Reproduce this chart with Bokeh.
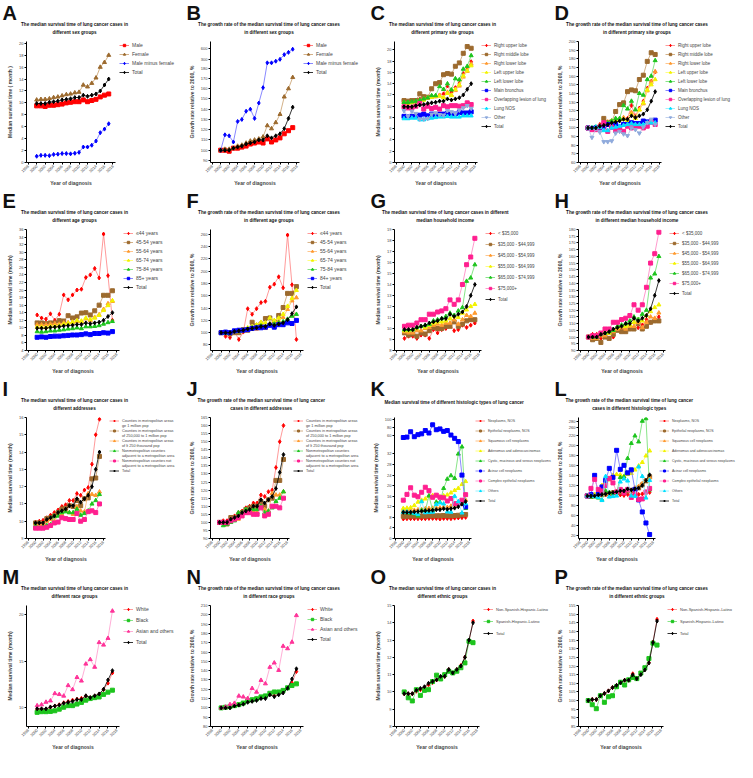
import math
from bokeh.plotting import figure
from bokeh.models import Legend, LegendItem, FixedTicker, Label
from bokeh.layouts import column, row
from bokeh.embed import file_html
from bokeh.resources import INLINE

FONT = "Liberation Sans"
years = list(range(2000, 2018))
x_ticks = list(range(1998, 2019, 2))

total_time = [9.9, 9.9, 9.9, 10.1, 10.2, 10.3, 10.5, 10.6, 10.7, 10.9, 10.9, 11.3, 11.1, 11.3, 11.5, 12.0, 13.0, 14.0]
total_growth = [100, 100, 100, 102, 103, 104, 106, 107, 108, 110, 110, 114, 112, 114, 116, 121, 131, 142]

# A
male_a = [9.5, 9.5, 9.4, 9.6, 9.6, 9.7, 9.8, 10.0, 10.1, 10.2, 10.2, 10.5, 10.2, 10.4, 10.6, 11.0, 11.3, 11.5]
female_a = [10.5, 10.6, 10.6, 10.7, 10.9, 11.0, 11.2, 11.4, 11.5, 11.7, 11.8, 13.0, 12.7, 13.3, 14.2, 16.0, 16.8, 18.0]
diff_a = [1.05, 1.2, 1.2, 1.15, 1.35, 1.4, 1.5, 1.5, 1.45, 1.55, 1.7, 2.6, 2.6, 2.9, 3.6, 5.0, 5.6, 6.5]
# B
male_b = [100, 100, 99, 102, 102, 103, 104, 106, 107, 108, 107, 111, 108, 110, 112, 116, 119, 122]
female_b = [100, 101, 101, 102, 104, 105, 107, 109, 110, 111, 113, 124, 121, 127, 135, 152, 160, 171]
diff_b = [100, 115, 114, 108, 128, 130, 138, 140, 131, 146, 161, 211, 211, 257, 309, 440, 503, 591]
# C
rul_c = [10.8, 10.8, 10.9, 11.0, 11.3, 11.2, 11.6, 11.7, 11.8, 12.0, 12.2, 13.6, 12.5, 13.3, 14.1, 15.8, 16.6, 17.9]
rml_c = [11.0, 10.9, 11.0, 11.0, 12.2, 11.7, 11.6, 13.1, 14.0, 14.2, 15.6, 15.8, 15.7, 17.1, 17.7, 19.4, 20.6, 20.3]
rll_c = [10.6, 10.5, 10.6, 10.8, 11.1, 11.3, 11.5, 11.6, 11.7, 11.9, 11.6, 12.5, 12.0, 12.8, 13.6, 15.2, 16.2, 17.5]
lul_c = [10.7, 10.6, 10.7, 10.8, 10.9, 11.1, 11.5, 11.6, 11.8, 11.8, 11.5, 12.3, 11.9, 13.0, 13.8, 15.4, 16.3, 17.2]
lll_c = [10.7, 10.7, 10.8, 10.9, 11.1, 11.3, 11.5, 11.9, 11.9, 13.5, 13.0, 14.0, 12.9, 14.9, 14.7, 16.6, 17.1, 19.0]
mb_c = [8.2, 8.1, 8.2, 8.2, 8.4, 8.6, 8.3, 8.6, 8.3, 8.6, 8.6, 8.7, 8.6, 8.6, 8.9, 8.8, 8.8, 9.0]
ovl_c = [9.9, 9.7, 9.7, 10.0, 10.5, 9.5, 10.0, 9.6, 9.8, 9.5, 10.1, 9.9, 10.1, 10.1, 10.0, 10.1, 10.6, 10.3]
nos_c = [7.8, 7.8, 7.9, 7.9, 7.6, 7.6, 7.8, 7.9, 8.0, 8.1, 8.1, 8.2, 8.1, 8.1, 8.1, 8.3, 8.3, 8.3]
oth_c = [9.2, 8.2, 9.1, 8.7, 7.7, 7.7, 7.8, 8.6, 8.8, 8.5, 8.4, 9.2, 9.0, 8.7, 9.3, 9.7, 10.1, 9.6]
# D
rul_d = [100, 100, 101, 104, 104, 106, 108, 108, 109, 111, 111, 126, 114, 123, 131, 146, 154, 165]
rml_d = [100, 99, 100, 101, 111, 106, 107, 119, 127, 129, 142, 144, 143, 156, 161, 177, 187, 185]
rll_d = [100, 99, 100, 102, 105, 107, 108, 109, 110, 112, 110, 118, 113, 121, 128, 143, 153, 165]
lul_d = [100, 99, 100, 101, 102, 104, 108, 109, 110, 110, 108, 115, 111, 121, 129, 144, 150, 156]
lll_d = [100, 100, 101, 102, 104, 106, 108, 111, 111, 126, 122, 131, 121, 140, 138, 156, 160, 178]
mb_d = [100, 99, 100, 100, 102, 104, 101, 104, 101, 104, 104, 106, 105, 105, 108, 107, 107, 109]
ovl_d = [100, 98, 98, 101, 106, 96, 101, 97, 99, 96, 102, 100, 102, 102, 100, 102, 107, 104]
nos_d = [100, 100, 101, 101, 97, 97, 100, 101, 102, 103, 104, 105, 104, 104, 104, 106, 106, 106]
oth_d = [100, 89, 99, 95, 84, 84, 85, 94, 96, 93, 91, 100, 98, 94, 101, 106, 110, 104]
# E
a44_e = [13.4, 12.6, 12.3, 13.7, 12.0, 13.6, 18.7, 17.4, 18.7, 20.0, 20.2, 23.3, 24.0, 25.7, 23.2, 34.8, 23.8, 12.0]
a45_e = [11.3, 11.3, 11.1, 11.3, 11.3, 11.9, 11.8, 13.2, 12.6, 12.9, 13.9, 14.0, 13.4, 14.5, 16.0, 18.6, 18.6, 19.8]
a55_e = [10.8, 10.8, 10.8, 11.0, 11.1, 11.0, 11.3, 11.4, 11.5, 11.7, 11.6, 12.4, 11.9, 12.8, 13.5, 14.9, 16.4, 17.0]
a65_e = [10.2, 10.2, 10.1, 10.4, 10.4, 10.6, 11.0, 11.2, 11.5, 11.9, 11.8, 12.6, 12.2, 12.6, 13.3, 14.6, 15.9, 17.2]
a75_e = [9.0, 8.9, 9.0, 9.2, 9.2, 9.4, 9.5, 9.7, 9.8, 10.0, 9.8, 10.3, 10.3, 10.4, 10.6, 11.0, 11.4, 11.7]
a85_e = [7.5, 7.6, 7.5, 7.7, 7.8, 7.8, 7.9, 8.0, 8.1, 8.1, 8.2, 8.4, 8.2, 8.5, 8.5, 8.7, 8.6, 9.0]
# F
a44_f = [100, 94, 92, 102, 89, 101, 139, 130, 139, 149, 151, 174, 179, 191, 173, 259, 178, 89]
a45_f = [100, 100, 98, 100, 100, 105, 104, 117, 111, 114, 123, 124, 118, 128, 141, 164, 164, 175]
a55_f = [100, 100, 100, 102, 103, 102, 105, 106, 106, 108, 107, 115, 110, 119, 125, 138, 152, 157]
a65_f = [100, 100, 99, 102, 102, 104, 108, 110, 113, 117, 116, 124, 120, 124, 130, 143, 156, 169]
a75_f = [100, 99, 100, 102, 102, 104, 106, 108, 109, 111, 109, 114, 114, 116, 118, 122, 127, 130]
a85_f = [100, 101, 100, 103, 104, 104, 105, 107, 108, 108, 109, 112, 109, 113, 113, 116, 115, 120]
# G
i35_g = [9.1, 9.3, 9.3, 9.1, 9.4, 9.4, 9.1, 9.9, 9.6, 9.9, 10.0, 10.4, 9.8, 9.9, 10.3, 10.1, 10.3, 10.5]
i45_g = [9.6, 9.4, 9.5, 9.3, 9.6, 9.5, 9.8, 10.1, 10.0, 10.0, 10.2, 10.2, 10.6, 10.2, 10.4, 10.7, 10.8, 10.8]
i55_g = [9.7, 9.6, 9.6, 9.8, 9.8, 10.0, 10.1, 10.3, 10.4, 10.3, 10.5, 10.5, 10.8, 10.4, 10.8, 11.2, 11.1, 11.4]
i65_g = [9.8, 9.8, 9.9, 10.0, 10.2, 10.1, 10.3, 10.5, 10.6, 10.6, 10.7, 10.9, 11.1, 11.0, 11.4, 11.7, 12.0, 12.2]
i75_g = [9.9, 9.9, 9.9, 10.1, 10.2, 10.3, 10.4, 10.7, 10.8, 10.9, 11.1, 11.4, 11.2, 11.6, 11.9, 14.3, 14.6, 15.8]
ihi_g = [10.2, 10.3, 10.3, 10.5, 10.8, 10.8, 11.3, 11.3, 11.5, 11.6, 11.8, 12.6, 12.2, 12.6, 14.0, 15.8, 16.5, 18.2]
# H
i35_h = [100, 102, 102, 99, 103, 103, 100, 108, 106, 109, 110, 114, 107, 109, 113, 111, 113, 115]
i45_h = [100, 98, 99, 96, 100, 99, 102, 105, 104, 104, 106, 106, 110, 106, 108, 111, 112, 112]
i55_h = [100, 99, 99, 101, 101, 103, 104, 106, 107, 106, 108, 108, 111, 107, 111, 115, 114, 118]
i65_h = [100, 100, 101, 102, 104, 103, 105, 107, 108, 108, 109, 111, 113, 112, 116, 119, 122, 124]
i75_h = [100, 100, 100, 102, 103, 104, 105, 108, 109, 110, 112, 115, 113, 117, 120, 144, 147, 160]
ihi_h = [100, 101, 101, 103, 106, 106, 111, 111, 113, 114, 116, 124, 120, 124, 137, 155, 162, 178]
# I
m1_i = [9.95, 10.0, 10.05, 10.2, 10.35, 10.5, 10.65, 10.85, 10.95, 11.2, 11.2, 11.6, 11.5, 11.8, 11.95, 13.3, 15.0, 15.9]
m2_i = [9.9, 9.9, 9.8, 10.15, 10.2, 10.3, 10.5, 10.7, 10.75, 10.9, 10.85, 11.2, 10.9, 11.3, 11.35, 12.45, 12.5, 13.75]
m3_i = [9.85, 9.8, 9.85, 10.0, 10.1, 10.0, 10.4, 10.4, 10.6, 10.5, 10.4, 10.85, 10.6, 10.55, 11.6, 11.55, 11.5, 11.7]
n1_i = [9.75, 9.6, 9.65, 9.75, 9.8, 10.3, 10.3, 10.5, 10.55, 10.5, 10.5, 10.7, 10.35, 10.45, 10.6, 11.0, 11.2, 11.55]
n2_i = [9.6, 9.6, 9.6, 9.65, 9.75, 9.9, 9.95, 10.2, 10.15, 10.1, 10.1, 10.45, 10.0, 10.1, 10.55, 10.6, 10.5, 11.0]
# J
m1_j = [100, 101, 101, 103, 104, 106, 107, 109, 110, 112, 112, 117, 116, 119, 120, 134, 150, 160]
m2_j = [100, 100, 99, 103, 103, 104, 106, 108, 109, 110, 110, 113, 110, 114, 115, 126, 126, 139]
m3_j = [100, 100, 100, 102, 103, 102, 106, 106, 108, 107, 106, 110, 108, 107, 118, 117, 117, 119]
n1_j = [100, 98, 99, 100, 101, 106, 106, 108, 108, 108, 108, 110, 106, 107, 109, 113, 115, 119]
n2_j = [100, 100, 100, 101, 102, 103, 104, 106, 106, 105, 105, 109, 104, 105, 110, 110, 109, 115]
# K
neo_k = [7.4, 7.5, 7.5, 7.5, 7.5, 7.5, 7.5, 7.6, 7.6, 7.6, 7.4, 7.6, 7.6, 7.5, 7.7, 7.8, 7.9, 8.0]
epi_k = [8.4, 8.4, 8.5, 8.5, 8.5, 8.5, 8.5, 8.6, 8.6, 8.6, 8.6, 8.7, 8.6, 8.6, 8.7, 8.8, 9.0, 9.1]
squ_k = [10.6, 10.6, 10.7, 10.7, 10.9, 11.0, 11.3, 11.4, 11.5, 11.6, 11.6, 11.9, 11.8, 12.3, 12.7, 13.3, 14.0, 14.6]
ade_k = [11.4, 11.5, 11.7, 12.5, 13.8, 14.5, 15.0, 16.0, 16.3, 16.2, 15.8, 16.2, 16.5, 17.3, 18.2, 19.0, 20.5, 21.6]
cys_k = [10.0, 9.8, 9.6, 9.4, 8.6, 10.7, 10.5, 16.2, 10.6, 13.8, 13.7, 19.0, 22.5, 23.8, 22.8, 32.0, 34.7, 11.4]
aci_k = [55, 56, 69, 57, 62, 64, 72, 66, 86, 74, 76, 70, 72, 61, 53, 45, 24, 12]
com_k = [14.5, 16.7, 19.2, 16.4, 15.8, 17.5, 19.4, 18.1, 15.6, 16.4, 15.6, 15.4, 14.2, 15.1, 13.2, 13.3, 14.5, 16.6]
oth_k = [10.0, 10.1, 9.9, 9.6, 9.1, 14.0, 9.8, 9.9, 10.0, 12.9, 13.5, 13.1, 10.1, 10.0, 16.0, 14.0, 9.7, 13.2]
# L
neo_l = [100, 100, 101, 101, 102, 102, 102, 103, 103, 102, 101, 103, 102, 101, 103, 104, 105, 107]
epi_l = [100, 99, 101, 102, 103, 104, 105, 106, 107, 108, 109, 110, 111, 113, 116, 122, 130, 138]
squ_l = [100, 100, 101, 102, 103, 104, 106, 107, 108, 109, 109, 112, 111, 116, 119, 125, 131, 137]
ade_l = [100, 101, 103, 110, 121, 127, 132, 141, 143, 142, 139, 143, 145, 152, 160, 167, 180, 190]
cys_l = [100, 98, 98, 96, 92, 110, 107, 105, 107, 137, 138, 175, 205, 220, 208, 280, 288, 112]
aci_l = [100, 103, 141, 104, 118, 131, 155, 137, 191, 153, 161, 146, 152, 113, 92, 68, 46, 23]
com_l = [100, 115, 133, 113, 110, 121, 135, 126, 108, 113, 106, 113, 97, 104, 93, 94, 108, 115]
oth_l = [100, 100, 99, 97, 91, 139, 98, 99, 100, 128, 134, 130, 100, 99, 158, 139, 96, 131]
# M
white_m = [9.86, 9.86, 9.86, 10.07, 10.21, 10.34, 10.55, 10.69, 10.83, 10.93, 11.03, 11.28, 11.1, 11.28, 11.45, 11.97, 12.66, 13.76]
black_m = [9.52, 9.59, 9.59, 9.62, 9.69, 9.86, 10.07, 10.24, 10.24, 10.41, 10.59, 10.83, 11.0, 11.1, 11.17, 11.45, 11.69, 11.9]
asian_m = [10.24, 10.34, 10.62, 10.76, 11.55, 11.45, 11.28, 12.41, 11.97, 13.28, 12.9, 14.72, 15.2, 14.38, 17.03, 16.76, 17.48, 20.41]
# N
white_n = [100, 100, 100.7, 102.4, 103.5, 105.2, 107.7, 108.7, 109.8, 110.8, 111.8, 114.6, 112.9, 115.3, 117, 121.3, 126.8, 139]
black_n = [100, 100.7, 101.4, 102.4, 103.5, 105.2, 107.7, 108.7, 109.8, 111.8, 112.9, 115.7, 117.1, 117.1, 118.8, 121.6, 124, 125.8]
asian_n = [100, 101, 103.7, 105, 112.8, 111.8, 110.2, 121, 117, 129.7, 126, 143.7, 148.4, 140.4, 166.3, 163.7, 170.7, 199.3]
# O
nonhisp_o = [9.89, 9.89, 9.89, 10.04, 10.13, 10.26, 10.41, 10.54, 10.69, 10.86, 10.9, 11.29, 11.1, 11.29, 11.53, 12.0, 12.93, 14.1]
hisp_o = [10.0, 9.66, 9.48, 10.13, 9.8, 10.09, 10.13, 10.6, 10.97, 10.75, 11.0, 11.2, 11.1, 11.2, 11.4, 11.68, 12.93, 12.85]
# P
nonhisp_p = [100, 100.6, 100.6, 102.8, 104.1, 105.6, 107.5, 108.8, 110.3, 111.8, 111.8, 115.5, 112.9, 115.5, 118.1, 122, 133.9, 147]
hisp_p = [100, 97.6, 95.3, 102.8, 99, 102.2, 102.8, 108, 110.6, 109, 112, 113.4, 112.7, 115.9, 119, 124.3, 133.2, 132.1]
total_p = [100, 100.6, 100.6, 102.8, 104.1, 105.6, 107.5, 108.8, 110.3, 111.8, 111.8, 114.9, 112.6, 115, 117.7, 121.7, 133.5, 146]

STY = {
    "R": ("#FF0000", "#FF6060", "square"),
    "Rd": ("#FF0000", "#FF8080", "diamond"),
    "BR": ("#9C6A2E", "#C89D6A", "square"),
    "BRt": ("#9C6A2E", "#C89D6A", "triangle"),
    "OR": ("#FF9A2E", "#FFB870", "triangle"),
    "YE": ("#F2F200", "#FFFF60", "triangle"),
    "GR": ("#1DC41D", "#6ADD6A", "triangle"),
    "GRs": ("#1DC41D", "#6ADD6A", "square"),
    "BL": ("#0000FF", "#6A6AFF", "square"),
    "BLs": ("#0000FF", "#6A6AFF", "diamond"),
    "PK": ("#FF1F8F", "#FF80C0", "square"),
    "PKt": ("#FF3399", "#FF99CC", "triangle"),
    "CY": ("#00E0FF", "#80F0FF", "triangle"),
    "LB": ("#8FAADC", "#B0C4E8", "inverted_triangle"),
    "BK": ("#000000", "#000000", "diamond"),
}

Y_TIME = "Median survival time (month)"
Y_GROW = "Growth rate relative to 2000, %"
PW = 184      # panel width
HH = 38       # header height
MH = 150      # plot height
TOP = 3       # plot top border
TFS = 4.6     # title font size (px)


def header(letter, title_lines):
    h = figure(width=PW, height=HH, x_range=(0, PW), y_range=(0, HH),
               x_axis_location=None, y_axis_location=None, toolbar_location=None,
               output_backend="svg", min_border=0, outline_line_color=None)
    h.grid.visible = False
    h.add_layout(Label(x=2, y=HH - 1, text=letter, text_font_size="20px", text_font_style="bold",
                       text_font=FONT, text_baseline="top", text_color="#111111"))
    widest = max(len(t) for t in title_lines) * 0.56 * TFS
    cx = max(74, widest / 2 + 2)
    ys = [14, 6] if len(title_lines) == 2 else [12]
    for t, yy in zip(title_lines, ys):
        h.add_layout(Label(x=cx, y=yy, text=t, text_font_size=f"{TFS}px", text_font_style="bold",
                           text_font=FONT, text_align="center", text_baseline="middle",
                           text_color="#111111"))
    return h


def make_panel(letter, title_lines, ylabel, series, y_range, y_ticks, brk=None,
               legend_font="5px", spacing=3, item_h=6, lw=66):
    p = figure(width=PW - lw, height=MH, x_range=(1997.6, 2018.6), y_range=y_range,
               output_backend="svg", toolbar_location=None,
               min_border_left=26, min_border_right=3, min_border_top=TOP, min_border_bottom=0)
    lf = figure(width=lw, height=MH, x_range=(0, 1), y_range=(0, 1),
                x_axis_location=None, y_axis_location=None, toolbar_location=None,
                output_backend="svg", min_border=0, outline_line_color=None)
    lf.grid.visible = False
    if brk is None:
        f = lambda v: v
    else:
        f = lambda v: v if v <= brk[0] else brk[1] + (v - brk[2]) * brk[3]
    items = []
    for label, vals, sty in series:
        c, lc, mk = STY[sty]
        ys = [f(v) for v in vals]
        p.line(years, ys, line_color=lc, line_width=0.8)
        p.scatter(years, ys, marker=mk, size=4, fill_color=c, line_color=c)
        # legend proxies (kept outside the legend figure's visible range)
        ln = lf.line([-5, -4], [-5, -5], line_color=lc, line_width=0.8)
        sc = lf.scatter([-5], [-5], marker=mk, size=4, fill_color=c, line_color=c)
        parts = label.split("|")
        items.append(LegendItem(label=parts[0], renderers=[ln, sc]))
        for extra in parts[1:]:
            dummy = lf.line([-5, -4], [-5, -5], line_alpha=0)
            items.append(LegendItem(label=extra, renderers=[dummy]))
    legend = Legend(items=items, location="top_left", label_text_font_size=legend_font,
                    label_text_font=FONT, glyph_width=10, glyph_height=item_h,
                    label_height=item_h, spacing=spacing, padding=1, margin=0,
                    border_line_alpha=0, background_fill_alpha=0, label_standoff=3)
    lf.add_layout(legend)

    p.xgrid.visible = False
    p.ygrid.visible = False
    p.outline_line_color = None
    for ax in (p.xaxis, p.yaxis):
        ax.axis_line_width = 1
        ax.major_tick_out = 2
        ax.major_tick_in = 0
        ax.minor_tick_out = 0
        ax.minor_tick_in = 0
        ax.major_label_text_font_size = "4px"
        ax.major_label_text_font = FONT
        ax.major_label_standoff = 1
        ax.axis_label_text_font_size = "5px"
        ax.axis_label_text_font_style = "bold"
        ax.axis_label_text_font = FONT
        ax.axis_label_standoff = 3
    p.xaxis.ticker = FixedTicker(ticks=x_ticks)
    p.xaxis.major_label_orientation = math.pi / 4
    p.xaxis.axis_label = "Year of diagnosis"
    p.yaxis.axis_label = ylabel
    tpos = [round(f(t), 3) for t in y_ticks]
    p.yaxis.ticker = FixedTicker(ticks=tpos)
    if brk is not None:
        p.yaxis.major_label_overrides = {tp: str(t) for tp, t in zip(tpos, y_ticks)}
    return column(header(letter, title_lines), row(p, lf))


def rng(a, b, s):
    return list(range(a, b + 1, s))


pA = make_panel("A", ["The median survival time of lung cancer cases in", "different sex groups"],
                "Median survival time ( month )",
                [("Male", male_a, "R"), ("Female", female_a, "BRt"),
                 ("Male minus female", diff_a, "BLs"), ("Total", total_time, "BK")],
                (0, 20.3), rng(0, 20, 2))
pB = make_panel("B", ["The growth rate of the median survival time of lung cancer cases", "in different sex groups"],
                Y_GROW,
                [("Male", male_b, "R"), ("Female", female_b, "BRt"),
                 ("Male minus female", diff_b, "BLs"), ("Total", total_growth, "BK")],
                (88, 206), rng(90, 180, 10) + [300, 600], brk=(185, 188.3, 300, 0.035))
site_labels = ["Right upper lobe", "Right middle lobe", "Right lower lobe", "Left upper lobe",
               "Left lower lobe", "Main bronchus", "Overlapping lesion of lung", "Lung NOS", "Other", "Total"]
site_sty = ["Rd", "BR", "OR", "YE", "GR", "BL", "PK", "CY", "LB", "BK"]
pC = make_panel("C", ["The median survival time of lung cancer cases in", "different primary site groups"],
                Y_TIME,
                list(zip(site_labels, [rul_c, rml_c, rll_c, lul_c, lll_c, mb_c, ovl_c, nos_c, oth_c, total_time], site_sty)),
                (0, 21.5), rng(0, 20, 2), legend_font="4.5px", lw=72)
pD = make_panel("D", ["The growth rate of the median survival time of lung cancer cases", "in different primary site groups"],
                Y_GROW,
                list(zip(site_labels, [rul_d, rml_d, rll_d, lul_d, lll_d, mb_d, ovl_d, nos_d, oth_d, total_growth], site_sty)),
                (60, 200), rng(60, 200, 10), legend_font="4.5px", lw=72)
age_sty = ["Rd", "BR", "OR", "YE", "GR", "BL", "BK"]
pE = make_panel("E", ["The median survival time of lung cancer cases in", "different age groups"],
                Y_TIME,
                list(zip(["\u226444 years", "45-54 years", "55-64 years", "65-74 years", "75-84 years", "85+ years", "Total"],
                         [a44_e, a45_e, a55_e, a65_e, a75_e, a85_e, total_time], age_sty)),
                (4, 36), rng(4, 36, 2), lw=62)
pF = make_panel("F", ["The growth rate of the median survival time of lung cancer cases", "in different age groups"],
                Y_GROW,
                list(zip(["\u226444 years", "45-54 years", "55-64 years", "65-74 years", "75-84 years", "84+ years", "Total"],
                         [a44_f, a45_f, a55_f, a65_f, a75_f, a85_f, total_growth], age_sty)),
                (71, 268), rng(80, 260, 20), lw=62)
inc_labels = ["< $35,000", "$35,000 - $44,999", "$45,000 - $54,999", "$55,000 - $64,999",
              "$65,000 - $74,999", "$75,000+", "Total"]
inc_sty = ["Rd", "BR", "OR", "YE", "GR", "PK", "BK"]
pG = make_panel("G", ["The median survival time of lung cancer cases in different", "median household income"],
                Y_TIME, list(zip(inc_labels, [i35_g, i45_g, i55_g, i65_g, i75_g, ihi_g, total_time], inc_sty)),
                (8, 19), rng(8, 19, 1), legend_font="4.5px", spacing=5, lw=68)
pH = make_panel("H", ["The growth rate of the median survival time of lung cancer cases", "in different median household income"],
                Y_GROW, list(zip(inc_labels, [i35_h, i45_h, i55_h, i65_h, i75_h, ihi_h, total_growth], inc_sty)),
                (90, 180), rng(90, 180, 5), legend_font="4.5px", spacing=4, lw=68)
addr_labels = ["Counties in metropolitan areas|ge 1 million pop",
               "Counties in metropolitan areas|of 250,000 to 1 million pop",
               "Counties in metropolitan areas|of lt 250 thousand pop",
               "Nonmetropolitan counties|adjacent to a metropolitan area",
               "Nonmetropolitan counties not|adjacent to a metropolitan area", "Total"]
addr_sty = ["Rd", "BR", "OR", "GR", "PK", "BK"]
pI = make_panel("I", ["The median survival time of lung cancer cases in", "different addresses"],
                Y_TIME, list(zip(addr_labels, [m1_i, m2_i, m3_i, n1_i, n2_i, total_time], addr_sty)),
                (9, 16), rng(9, 16, 1), legend_font="3.8px", spacing=0, item_h=5, lw=76)
pJ = make_panel("J", ["The growth rate of the median survival time of lung cancer", "cases in different addresses"],
                Y_GROW, list(zip(addr_labels, [m1_j, m2_j, m3_j, n1_j, n2_j, total_growth], addr_sty)),
                (90, 165), rng(90, 165, 5), legend_font="3.8px", spacing=0, item_h=5, lw=76)
hist_labels = ["Neoplasms, NOS", "Epithelial neoplasms, NOS", "Squamous cell neoplasms",
               "Adenomas and adenocarcinomas", "Cystic, mucinous and serous neoplasms",
               "Acinar cell neoplasms", "Complex epithelial neoplasms", "Others", "Total"]
hist_sty = ["Rd", "BR", "OR", "YE", "GR", "BL", "PK", "CY", "BK"]
pK = make_panel("K", ["Median survival time of different histologic types of lung cancer"],
                Y_TIME, list(zip(hist_labels, [neo_k, epi_k, squ_k, ade_k, cys_k, aci_k, com_k, oth_k, total_time], hist_sty)),
                (0, 45.8), rng(0, 32, 4) + [60, 80, 100], brk=(36, 39.0, 60, 0.155),
                legend_font="3.5px", spacing=5, item_h=5, lw=78)
pL = make_panel("L", ["The growth rate of the median survival time of lung cancer", "cases in different histologic types"],
                Y_GROW, list(zip(hist_labels, [neo_l, epi_l, squ_l, ade_l, cys_l, aci_l, com_l, oth_l, total_growth], hist_sty)),
                (15, 256.5), rng(20, 220, 20) + [260, 280], brk=(225, 236.9, 260, 0.62),
                legend_font="3.5px", spacing=5, item_h=5, lw=78)
race_labels = ["White", "Black", "Asian and others", "Total"]
race_sty = ["Rd", "GRs", "PKt", "BK"]
pM = make_panel("M", ["The median survival time of lung cancer cases in", "different race groups"],
                Y_TIME, list(zip(race_labels, [white_m, black_m, asian_m, total_time], race_sty)),
                (8, 21), [10, 15, 20], spacing=5, lw=62)
pN = make_panel("N", ["The growth rate of the median survival time of lung cancer cases", "in different race groups"],
                Y_GROW, list(zip(race_labels, [white_n, black_n, asian_n, total_growth], race_sty)),
                (80, 210), rng(80, 210, 10), spacing=4, lw=62)
eth_labels = ["Non-Spanish-Hispanic-Latino", "Spanish-Hispanic-Latino", "Total"]
eth_sty = ["Rd", "GRs", "BK"]
pO = make_panel("O", ["The median survival time of lung cancer cases in", "different ethnic groups"],
                Y_TIME, list(zip(eth_labels, [nonhisp_o, hisp_o, total_time], eth_sty)),
                (8, 15), rng(8, 15, 1), legend_font="4px", spacing=6, lw=70)
pP = make_panel("P", ["The growth rate of the median survival time of lung cancer cases", "in different ethnic groups"],
                Y_GROW, list(zip(eth_labels, [nonhisp_p, hisp_p, total_p], eth_sty)),
                (85, 155), rng(85, 155, 5), legend_font="4px", spacing=6, lw=70)

layout = column(row(pA, pB, pC, pD), row(pE, pF, pG, pH), row(pI, pJ, pK, pL), row(pM, pN, pO, pP))

open("out.html", "w").write(file_html(layout, INLINE))
